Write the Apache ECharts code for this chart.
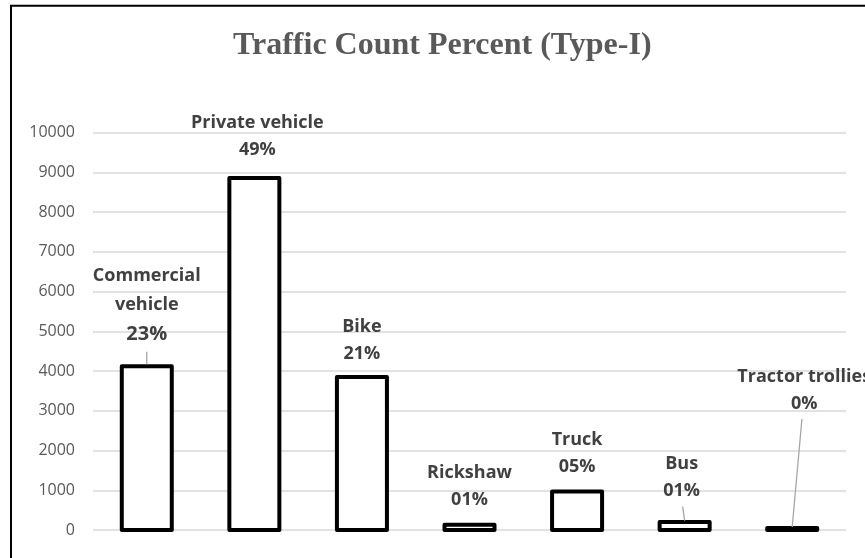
<!DOCTYPE html>
<html>
<head>
<meta charset="utf-8">
<script src="https://cdn.jsdelivr.net/npm/echarts@6/dist/echarts.min.js"></script>
<style>
html,body{margin:0;padding:0;background:#fff;}
#chart{width:865px;height:558px;}
</style>
</head>
<body>
<div id="chart"></div>
<script>
// ---- data ----
const categories = ['Commercial vehicle', 'Private vehicle', 'Bike', 'Rickshaw', 'Truck', 'Bus', 'Tractor trollies'];
const counts = [4120, 8860, 3850, 130, 970, 200, 50];
const percentLabels = ['23%', '49%', '21%', '01%', '05%', '01%', '0%'];
const yMin = 0, yMax = 10000, yInterval = 1000;
const titleText = 'Traffic Count Percent (Type-I)';

// ---- label styling (pixel placement of the data labels relative to bar tops) ----
const labelDistance = [17.3, 14.5, 10, 11, 11, 18, 111];
const labelShiftX = [0, 3, 0, 0, 0, -3, 12];
const wrapName = [true, false, false, false, false, false, false];
// leader lines: [lowerDx, lowerDy, upperDx, upperDy] relative to bar-top centre, or null
const leaderStyle = [[0, -2, 0, -14.6], null, null, null, null, [0, -1.5, -2, -15.5], [0, -1, 9.7, -109]];

const BAR_W = 50;
const chart = echarts.init(document.getElementById('chart'));

const LABEL_FONT = 'Open Sans';
const barData = counts.map((v, i) => {
  const big = i === 0;
  return {
    value: v,
    label: {
      distance: labelDistance[i],
      offset: [labelShiftX[i], 0],
      formatter: () => {
        const nm = wrapName[i] ? categories[i].split(' ').map(s => '{n|' + s + '}').join('\n') : '{n|' + categories[i] + '}';
        return nm + '\n{' + (big ? 'b' : 'p') + '|' + percentLabels[i] + '}';
      },
      rich: {
        n: { fontFamily: LABEL_FONT, fontWeight: 'bold', fontSize: 18, color: '#404040', lineHeight: big ? 28.6 : 27 },
        p: { fontFamily: LABEL_FONT, fontWeight: 'bold', fontSize: 18, color: '#404040', lineHeight: 27 },
        b: { fontFamily: LABEL_FONT, fontWeight: 'bold', fontSize: 20, color: '#404040', lineHeight: 30 }
      }
    }
  };
});

const outlineData = counts.map((v, i) => [i, v]);

chart.setOption({
  animation: false,
  backgroundColor: '#ffffff',
  title: {
    text: titleText,
    left: 228,
    top: 24.8,
    textStyle: { fontFamily: 'Liberation Serif', fontWeight: 'bold', fontSize: 32, color: '#595959' }
  },
  graphic: [{
    type: 'rect',
    shape: { x: 11, y: 5.7, width: 900, height: 600 },
    style: { fill: 'none', stroke: '#000', lineWidth: 2 },
    silent: true
  }],
  grid: { left: 93, right: 19, top: 132.7, bottom: 28, containLabel: false },
  xAxis: {
    type: 'category',
    data: categories,
    axisLine: { show: false },
    axisTick: { show: false },
    axisLabel: { show: false }
  },
  yAxis: {
    type: 'value',
    min: yMin, max: yMax, interval: yInterval,
    axisLine: { show: false },
    axisTick: { show: false },
    axisLabel: { fontFamily: 'Open Sans', fontSize: 16, color: '#595959', margin: 18, formatter: v => String(v) },
    splitLine: { lineStyle: { color: '#d9d9d9', width: 1.5 } }
  },
  series: [{
    type: 'bar',
    data: barData,
    barWidth: BAR_W,
    itemStyle: { color: '#ffffff', borderWidth: 0 },
    label: { show: true, position: 'top' },
    z: 2
  }, {
    // bar outlines (stroke centred on the bar edge) and label leader lines
    type: 'custom',
    data: outlineData,
    silent: true,
    z: 3,
    renderItem: (params, api) => {
      const i = params.dataIndex;
      const top = api.coord([api.value(0), api.value(1)]);
      const base = api.coord([api.value(0), 0]);
      const children = [{
        type: 'rect',
        shape: { x: top[0] - BAR_W / 2, y: top[1], width: BAR_W, height: base[1] - top[1] },
        style: { fill: 'none', stroke: '#000', lineWidth: 4, lineJoin: 'round' }
      }];
      const spec = leaderStyle[i];
      if (spec) {
        children.push({
          type: 'line',
          shape: { x1: top[0] + spec[0], y1: top[1] + spec[1], x2: top[0] + spec[2], y2: top[1] + spec[3] },
          style: { stroke: '#a6a6a6', lineWidth: 1.3 }
        });
      }
      return { type: 'group', children };
    }
  }]
});
</script>
</body>
</html>
